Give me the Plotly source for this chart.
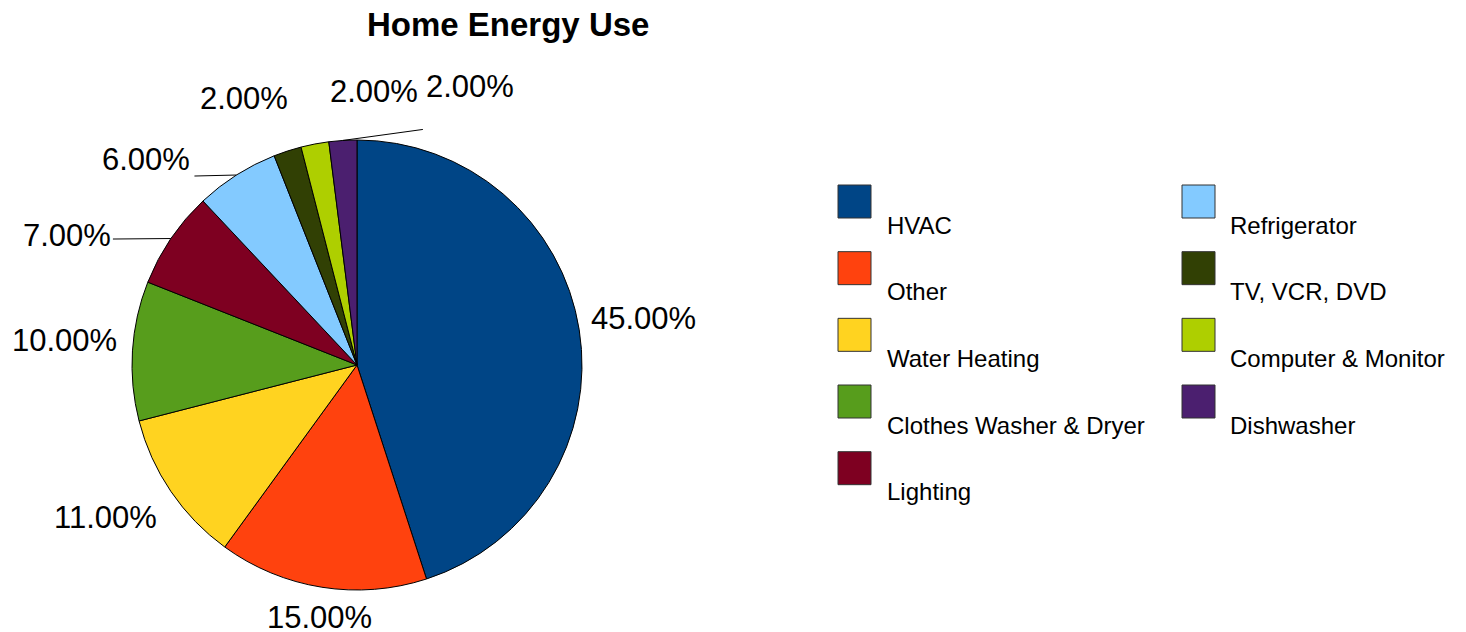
import math
import plotly.graph_objects as go

# ---- data ----
categories = ["HVAC", "Other", "Water Heating", "Clothes Washer & Dryer", "Lighting",
              "Refrigerator", "TV, VCR, DVD", "Computer & Monitor", "Dishwasher"]
shares = [45, 15, 11, 10, 7, 6, 2, 2, 2]
colors = ["#004586", "#ff420e", "#ffd320", "#579d1c", "#7e0021",
          "#83caff", "#314004", "#aecf00", "#4b1f6f"]
title_text = "Home Energy Use"

# ---- layout constants (pixels) ----
W, H = 1466, 632
CX, CY, R = 357, 365, 225
FONT = "Liberation Sans, Arial, sans-serif"

def px(x):
    return x / W

def py(y):
    return 1 - y / H

# label placement style: (dx, dy, xanchor, leader_end or None), relative to slice edge point
label_style = [
    (10, -11.5, "left", None),
    (-2, 30, "center", None),
    (-12, 26.5, "right", None),
    (-13, -10.5, "right", None),
    (-58, -3, "right", (-58, 0.5)),
    (-44, -15.5, "right", (-42, 1)),
    (2.5, -52.5, "right", None),
    (13, -52, "left", None),
    (81, -53.5, "left", (80, -11)),
]

fig = go.Figure()
fig.add_trace(go.Pie(
    labels=categories, values=shares, sort=False, direction="clockwise", rotation=0,
    marker=dict(colors=colors, line=dict(color="#000000", width=1)),
    textinfo="none", hoverinfo="label+percent", showlegend=False,
    domain=dict(x=[px(CX - R), px(CX + R)], y=[py(CY + R), py(CY - R)]),
))

total = sum(shares)
annotations = []
shapes = []
cum = 0
for i, v in enumerate(shares):
    mid = (cum + v / 2) / total * 2 * math.pi
    cum += v
    ex = CX + R * math.sin(mid)
    ey = CY - R * math.cos(mid)
    dx, dy, xa, lead = label_style[i]
    pct = v / total * 100
    annotations.append(dict(
        x=px(ex + dx), y=py(ey + dy), xref="paper", yref="paper",
        text=f"{pct:.2f}%", showarrow=False, xanchor=xa, yanchor="middle",
        font=dict(family=FONT, size=31, color="#000000"),
    ))
    if lead is not None:
        shapes.append(dict(
            type="line", xref="paper", yref="paper",
            x0=px(ex), y0=py(ey), x1=px(ex + lead[0]), y1=py(ey + lead[1]),
            line=dict(color="#000000", width=1),
        ))

# custom legend (two columns, column-major)
col_x = [838, 1182]
text_x = [885, 1228]
top0, step, sw = 185, 66.67, 33
rows = 5
for i, (name, c) in enumerate(zip(categories, colors)):
    col, row = divmod(i, rows)
    top = top0 + row * step
    shapes.append(dict(
        type="rect", xref="paper", yref="paper",
        x0=px(col_x[col]), x1=px(col_x[col] + sw), y0=py(top + sw), y1=py(top),
        fillcolor=c, line=dict(color="#333333", width=1),
    ))
    annotations.append(dict(
        x=px(text_x[col]), y=py(top + 40), xref="paper", yref="paper",
        text=name, showarrow=False, xanchor="left", yanchor="middle",
        font=dict(family=FONT, size=24, color="#000000"),
    ))

annotations.append(dict(
    x=px(508), y=py(25), xref="paper", yref="paper",
    text=f"<b>{title_text}</b>", showarrow=False, xanchor="center", yanchor="middle",
    font=dict(family=FONT, size=33, color="#000000"),
))

fig.update_layout(
    width=W, height=H, margin=dict(l=0, r=0, t=0, b=0),
    paper_bgcolor="#ffffff", plot_bgcolor="#ffffff",
    annotations=annotations, shapes=shapes,
)

fig.write_html("out.html")
